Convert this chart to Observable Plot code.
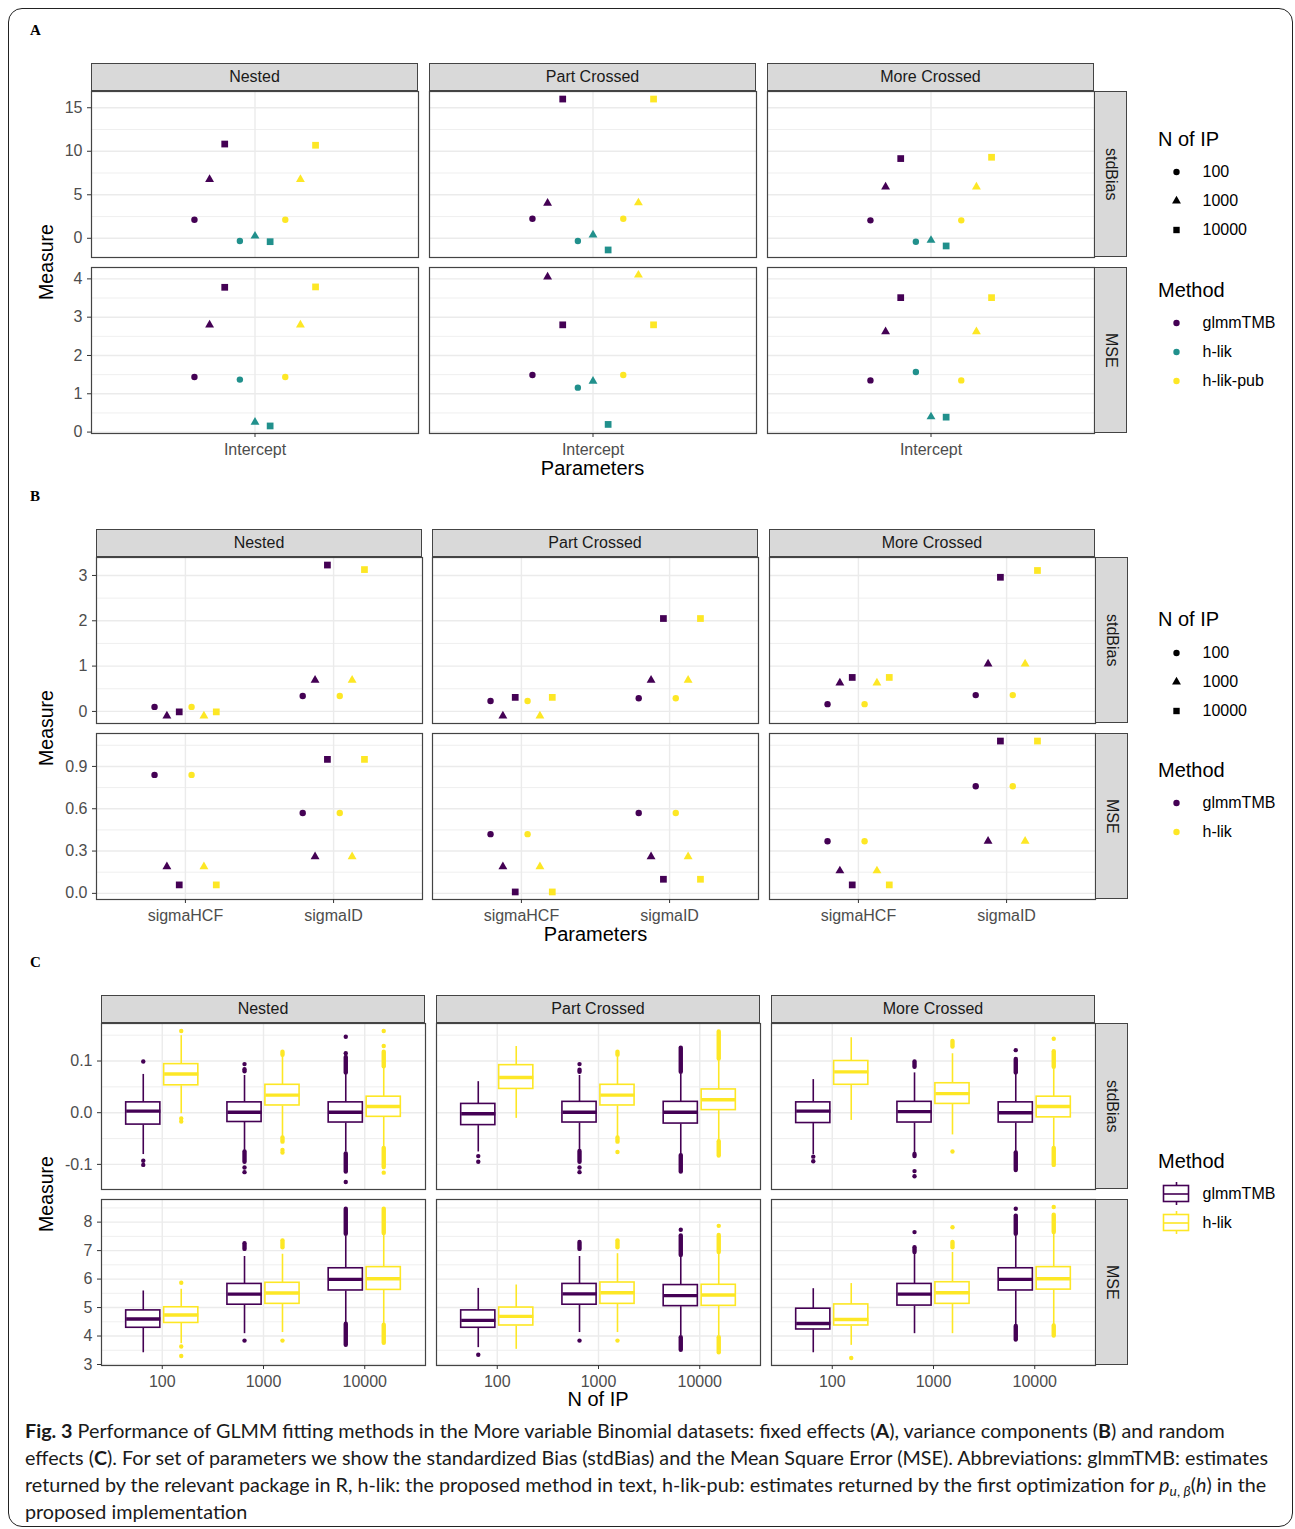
<!DOCTYPE html>
<html><head><meta charset="utf-8">
<script src="https://cdn.jsdelivr.net/npm/d3@7"></script>
<script src="https://cdn.jsdelivr.net/npm/@observablehq/plot@0.6"></script>
<style>
body{margin:0;background:#fff;}
#root{position:relative;width:1295px;height:1529px;font-family:'Liberation Sans',Arial,sans-serif;overflow:hidden;background:#fff;}
.strip{position:absolute;box-sizing:border-box;background:#D9D9D9;border:1.2px solid #444;display:flex;align-items:center;justify-content:center;font-size:16px;color:#1A1A1A;font-family:'Liberation Sans',Arial,sans-serif;}
.vstrip{writing-mode:vertical-rl;}
#frameBox{position:absolute;left:8px;top:8px;width:1285px;height:1519px;box-sizing:border-box;border:1.6px solid #222;border-radius:14px;}
#caption{position:absolute;left:25px;top:1417px;font-family:Lato,'Noto Sans',sans-serif;font-size:18.5px;line-height:27px;color:#1a1a1a;}
#caption div{white-space:nowrap;}
#caption sub{font-size:0.7em;vertical-align:-0.3em;line-height:0;}
</style></head><body><div id="root"><div id="frameBox"></div></div>
<script>
// ---------------- shared categories ----------------
const designs = ["Nested", "Part Crossed", "More Crossed"];
const measures = ["stdBias", "MSE"];
const nIP = ["100", "1000", "10000"];
const methodsA = ["glmmTMB", "h-lik", "h-lik-pub"];
const colorsA = ["#440154", "#21908C", "#FDE725"];
const methodsBC = ["glmmTMB", "h-lik"];
const colorsBC = ["#440154", "#FDE725"];
const paramsA = ["Intercept"];
const paramsB = ["sigmaHCF", "sigmaID"];

// ---------------- tick labels ----------------
const aYTicksStdBias = [0, 5, 10, 15];
const aYTicksMSE = [0, 1, 2, 3, 4];
const bYTicksStdBias = [0, 1, 2, 3];
const bYTicksMSE = [0, 0.3, 0.6, 0.9];
const cYTicksStdBias = [-0.1, 0, 0.1];
const cYTicksMSE = [3, 4, 5, 6, 7, 8];

// ---------------- Panel A values (order: Nested 100,1000,10000 | Part Crossed ... | More Crossed ...) ----------------
const aStdBiasGlmm = [2.13, 6.76, 10.83, 2.25, 4.04, 16.00, 2.06, 5.91, 9.16];
const aStdBiasHlik = [-0.31, 0.26, -0.39, -0.31, 0.38, -1.34, -0.39, -0.23, -0.88];
const aStdBiasPub  = [2.13, 6.76, 10.69, 2.25, 4.08, 16.00, 2.06, 5.91, 9.31];
const aMseGlmm = [1.44, 2.80, 3.78, 1.49, 4.05, 2.80, 1.35, 2.62, 3.51];
const aMseHlik = [1.37, 0.26, 0.16, 1.16, 1.33, 0.20, 1.57, 0.40, 0.39];
const aMsePub  = [1.44, 2.80, 3.79, 1.49, 4.10, 2.80, 1.35, 2.62, 3.51];

// ---------------- Panel B values ----------------
const bStdBiasHCFGlmm = [0.10, -0.10, -0.01, 0.23, -0.10, 0.31, 0.16, 0.63, 0.75];
const bStdBiasHCFHlik = [0.10, -0.10, -0.01, 0.23, -0.10, 0.31, 0.16, 0.63, 0.75];
const bStdBiasIDGlmm  = [0.34, 0.69, 3.23, 0.29, 0.69, 2.05, 0.36, 1.05, 2.96];
const bStdBiasIDHlik  = [0.34, 0.69, 3.13, 0.29, 0.69, 2.05, 0.36, 1.05, 3.11];
const bMseHCFGlmm = [0.84, 0.19, 0.06, 0.42, 0.19, 0.01, 0.37, 0.16, 0.06];
const bMseHCFHlik = [0.84, 0.19, 0.06, 0.42, 0.19, 0.01, 0.37, 0.16, 0.06];
const bMseIDGlmm  = [0.57, 0.26, 0.95, 0.57, 0.26, 0.10, 0.76, 0.37, 1.08];
const bMseIDHlik  = [0.57, 0.26, 0.95, 0.57, 0.26, 0.10, 0.76, 0.37, 1.08];

// ---------------- Panel C box statistics: [design, measure, nIP, method, lowWhisker, q1, median, q3, highWhisker] ----------------
const cNestedBoxes = [
  ["Nested","stdBias","100","glmmTMB", -0.080,-0.023,0.003,0.020,0.075],
  ["Nested","stdBias","100","h-lik", -0.001,0.053,0.075,0.094,0.150],
  ["Nested","stdBias","1000","glmmTMB", -0.072,-0.018,0.001,0.020,0.073],
  ["Nested","stdBias","1000","h-lik", -0.046,0.014,0.034,0.054,0.112],
  ["Nested","stdBias","10000","glmmTMB", -0.075,-0.019,0.001,0.020,0.075],
  ["Nested","stdBias","10000","h-lik", -0.066,-0.008,0.012,0.031,0.089],
  ["Nested","MSE","100","glmmTMB", 3.43,4.29,4.60,4.90,5.60],
  ["Nested","MSE","100","h-lik", 3.75,4.46,4.74,5.01,5.66],
  ["Nested","MSE","1000","glmmTMB", 4.10,5.10,5.47,5.83,6.81],
  ["Nested","MSE","1000","h-lik", 4.14,5.13,5.51,5.87,6.89],
  ["Nested","MSE","10000","glmmTMB", 4.49,5.60,5.99,6.38,7.53],
  ["Nested","MSE","10000","h-lik", 4.45,5.62,6.01,6.42,7.55]
];
const cPartBoxes = [
  ["Part Crossed","stdBias","100","glmmTMB", -0.075,-0.024,-0.002,0.017,0.061],
  ["Part Crossed","stdBias","100","h-lik", -0.010,0.046,0.068,0.092,0.129],
  ["Part Crossed","stdBias","1000","glmmTMB", -0.072,-0.019,0.001,0.021,0.073],
  ["Part Crossed","stdBias","1000","h-lik", -0.046,0.014,0.034,0.054,0.108],
  ["Part Crossed","stdBias","10000","glmmTMB", -0.081,-0.021,0.001,0.021,0.076],
  ["Part Crossed","stdBias","10000","h-lik", -0.053,0.005,0.025,0.045,0.102],
  ["Part Crossed","MSE","100","glmmTMB", 3.61,4.29,4.55,4.90,5.69],
  ["Part Crossed","MSE","100","h-lik", 3.55,4.37,4.69,5.00,5.81],
  ["Part Crossed","MSE","1000","glmmTMB", 4.14,5.10,5.48,5.83,6.81],
  ["Part Crossed","MSE","1000","h-lik", 4.14,5.13,5.52,5.88,6.91],
  ["Part Crossed","MSE","10000","glmmTMB", 4.02,5.05,5.42,5.79,6.81],
  ["Part Crossed","MSE","10000","h-lik", 4.02,5.06,5.44,5.80,6.89]
];
const cMoreBoxes = [
  ["More Crossed","stdBias","100","glmmTMB", -0.080,-0.020,0.003,0.020,0.065],
  ["More Crossed","stdBias","100","h-lik", -0.014,0.054,0.079,0.100,0.146],
  ["More Crossed","stdBias","1000","glmmTMB", -0.079,-0.019,0.002,0.021,0.078],
  ["More Crossed","stdBias","1000","h-lik", -0.042,0.017,0.037,0.057,0.115],
  ["More Crossed","stdBias","10000","glmmTMB", -0.075,-0.019,0.000,0.020,0.076],
  ["More Crossed","stdBias","10000","h-lik", -0.066,-0.009,0.012,0.031,0.086],
  ["More Crossed","MSE","100","glmmTMB", 3.43,4.23,4.44,4.96,5.68],
  ["More Crossed","MSE","100","h-lik", 3.69,4.37,4.58,5.11,5.86],
  ["More Crossed","MSE","1000","glmmTMB", 4.10,5.07,5.47,5.83,6.92],
  ["More Crossed","MSE","1000","h-lik", 4.10,5.13,5.52,5.89,6.95],
  ["More Crossed","MSE","10000","glmmTMB", 4.37,5.60,5.99,6.38,7.53],
  ["More Crossed","MSE","10000","h-lik", 4.39,5.63,6.01,6.42,7.59]
];
// isolated outliers: [design, measure, nIP, method, value]
const cOutlierPoints = [
  ["Nested","stdBias","100","glmmTMB",0.099],["Nested","stdBias","100","glmmTMB",-0.093],["Nested","stdBias","100","glmmTMB",-0.101],
  ["Nested","stdBias","100","h-lik",0.158],["Nested","stdBias","100","h-lik",-0.011],["Nested","stdBias","100","h-lik",-0.017],
  ["Nested","stdBias","1000","glmmTMB",0.094],["Nested","stdBias","1000","glmmTMB",-0.106],["Nested","stdBias","1000","glmmTMB",-0.115],
  ["Nested","stdBias","1000","h-lik",-0.072],["Nested","stdBias","1000","h-lik",-0.077],
  ["Nested","stdBias","10000","glmmTMB",0.115],["Nested","stdBias","10000","glmmTMB",0.147],["Nested","stdBias","10000","glmmTMB",-0.134],
  ["Nested","stdBias","10000","h-lik",0.129],["Nested","stdBias","10000","h-lik",0.158],["Nested","stdBias","10000","h-lik",-0.116],
  ["Nested","MSE","100","h-lik",5.87],["Nested","MSE","100","h-lik",3.63],["Nested","MSE","100","h-lik",3.30],
  ["Nested","MSE","1000","glmmTMB",3.84],["Nested","MSE","1000","h-lik",3.84],
  ["Part Crossed","stdBias","100","glmmTMB",-0.084],["Part Crossed","stdBias","100","glmmTMB",-0.095],
  ["Part Crossed","stdBias","1000","glmmTMB",0.094],["Part Crossed","stdBias","1000","glmmTMB",-0.106],["Part Crossed","stdBias","1000","glmmTMB",-0.115],
  ["Part Crossed","stdBias","1000","h-lik",-0.076],
  ["Part Crossed","MSE","100","glmmTMB",3.34],["Part Crossed","MSE","1000","glmmTMB",3.84],["Part Crossed","MSE","1000","h-lik",3.84],
  ["Part Crossed","MSE","10000","glmmTMB",7.73],["Part Crossed","MSE","10000","h-lik",7.87],
  ["More Crossed","stdBias","100","glmmTMB",-0.085],["More Crossed","stdBias","100","glmmTMB",-0.094],
  ["More Crossed","stdBias","1000","glmmTMB",-0.113],["More Crossed","stdBias","1000","glmmTMB",-0.123],
  ["More Crossed","stdBias","1000","h-lik",-0.075],
  ["More Crossed","stdBias","10000","glmmTMB",0.121],["More Crossed","stdBias","10000","h-lik",0.143],
  ["More Crossed","MSE","100","h-lik",3.23],["More Crossed","MSE","1000","glmmTMB",7.65],["More Crossed","MSE","1000","h-lik",7.82],
  ["More Crossed","MSE","10000","glmmTMB",8.47],["More Crossed","MSE","10000","h-lik",8.53]
];
// dense runs of overlapping outliers: [design, measure, nIP, method, from, to]
const cOutlierRuns = [
  ["Nested","stdBias","1000","glmmTMB",0.080,0.084],["Nested","stdBias","1000","glmmTMB",-0.095,-0.075],
  ["Nested","stdBias","1000","h-lik",0.112,0.118],["Nested","stdBias","1000","h-lik",-0.056,-0.048],
  ["Nested","stdBias","10000","glmmTMB",0.078,0.108],["Nested","stdBias","10000","glmmTMB",-0.114,-0.079],
  ["Nested","stdBias","10000","h-lik",0.090,0.118],["Nested","stdBias","10000","h-lik",-0.105,-0.068],
  ["Nested","MSE","1000","glmmTMB",7.06,7.26],["Nested","MSE","1000","h-lik",7.12,7.36],
  ["Nested","MSE","10000","glmmTMB",7.59,8.47],["Nested","MSE","10000","glmmTMB",3.69,4.43],
  ["Nested","MSE","10000","h-lik",7.62,8.47],["Nested","MSE","10000","h-lik",3.76,4.40],
  ["Part Crossed","stdBias","1000","glmmTMB",0.079,0.083],["Part Crossed","stdBias","1000","glmmTMB",-0.095,-0.074],
  ["Part Crossed","stdBias","1000","h-lik",0.112,0.118],["Part Crossed","stdBias","1000","h-lik",-0.056,-0.048],
  ["Part Crossed","stdBias","10000","glmmTMB",0.079,0.126],["Part Crossed","stdBias","10000","glmmTMB",-0.114,-0.082],
  ["Part Crossed","stdBias","10000","h-lik",0.105,0.157],["Part Crossed","stdBias","10000","h-lik",-0.083,-0.055],
  ["Part Crossed","MSE","1000","glmmTMB",7.06,7.30],["Part Crossed","MSE","1000","h-lik",7.12,7.36],
  ["Part Crossed","MSE","10000","glmmTMB",6.85,7.53],["Part Crossed","MSE","10000","glmmTMB",3.52,3.96],
  ["Part Crossed","MSE","10000","h-lik",6.95,7.55],["Part Crossed","MSE","10000","h-lik",3.43,3.96],
  ["More Crossed","stdBias","1000","glmmTMB",0.089,0.099],["More Crossed","stdBias","1000","glmmTMB",-0.084,-0.080],
  ["More Crossed","stdBias","1000","h-lik",0.128,0.139],
  ["More Crossed","stdBias","10000","glmmTMB",0.078,0.104],["More Crossed","stdBias","10000","glmmTMB",-0.111,-0.077],
  ["More Crossed","stdBias","10000","h-lik",0.089,0.119],["More Crossed","stdBias","10000","h-lik",-0.101,-0.068],
  ["More Crossed","MSE","1000","glmmTMB",6.95,7.12],["More Crossed","MSE","1000","h-lik",7.12,7.30],
  ["More Crossed","MSE","10000","glmmTMB",7.59,8.23],["More Crossed","MSE","10000","glmmTMB",3.88,4.35],
  ["More Crossed","MSE","10000","h-lik",7.65,8.26],["More Crossed","MSE","10000","h-lik",4.02,4.37]
];

// ---------------- helpers ----------------
const FONT = "'Liberation Sans', Arial, Helvetica, sans-serif";
const root = document.getElementById("root");
const SYMS = ["circle", "triangle", "square"];
const SYM_R = [3.2, 3.3, 3.8];

function rowsFrom(measure, method, param, arr) {
  return arr.map((v, i) => ({design: designs[Math.floor(i / 3)], nip: nIP[i % 3], measure, method, param, value: v}));
}
function expand([a, b]) { const p = (b - a) * 0.05; return [a - p, b + p]; }
function place(el, left, top) {
  el.style.position = "absolute"; el.style.left = left + "px"; el.style.top = top + "px";
  root.appendChild(el); return el;
}
function textDiv(txt, x, y, {size = 16, color = "#000", anchor = "middle", rotate = 0, weight = "normal", family = FONT} = {}) {
  const d = document.createElement("div");
  d.textContent = txt;
  d.style.cssText = `position:absolute;left:${x}px;top:${y}px;font-size:${size}px;color:${color};font-family:${family};font-weight:${weight};white-space:nowrap;line-height:1.15;transform:translate(${anchor === "start" ? "0" : "-50%"},-50%) rotate(${rotate}deg);`;
  root.appendChild(d);
}
function strip(txt, left, top, w, h, vertical) {
  const d = document.createElement("div");
  d.className = "strip" + (vertical ? " vstrip" : "");
  d.textContent = txt;
  d.style.left = left + "px"; d.style.top = top + "px"; d.style.width = w + "px"; d.style.height = h + "px";
  root.appendChild(d);
}
function cell({left, top, W, H, ml, mb, params, yDomain, yMajor, yFormat, marks, color, showY, showX}) {
  const stepY = yMajor[1] - yMajor[0];
  const minor = [];
  for (let i = -1; i < yMajor.length; i++) minor.push(yMajor[0] + (i + 0.5) * stepY);
  const minorIn = minor.filter(v => v > yDomain[0] && v < yDomain[1]);
  const xTicks = d3.range(1, params.length + 1);
  const svg = Plot.plot({
    width: ml + W, height: H + mb,
    marginLeft: ml, marginRight: 0, marginTop: 0, marginBottom: mb,
    x: {domain: [0.4, params.length + 0.6], axis: null},
    y: {domain: yDomain, axis: null},
    color,
    style: {fontFamily: FONT, fontSize: "16px", background: "transparent", overflow: "visible"},
    marks: [
      Plot.ruleY(minorIn, {stroke: "#EBEBEB", strokeWidth: 0.8}),
      Plot.ruleY(yMajor, {stroke: "#EBEBEB", strokeWidth: 1.4}),
      Plot.ruleX(xTicks, {stroke: "#EBEBEB", strokeWidth: 1.4}),
      ...marks,
      Plot.frame({stroke: "#444", strokeWidth: 1.2}),
      showY ? Plot.axisY(yMajor, {tickSize: 4, tickPadding: 5, fontSize: 16, fill: "#4D4D4D", stroke: "#333", label: null, tickFormat: yFormat}) : null,
      showX ? Plot.axisX(xTicks, {tickSize: 4, tickPadding: 6, fontSize: 16, fill: "#4D4D4D", stroke: "#333", label: null, tickFormat: i => params[i - 1]}) : null
    ]
  });
  place(svg, left - ml, top);
}
function frameStrips(L) {
  designs.forEach((des, c) => strip(des, L.colLefts[c], L.stripTop, L.colW, L.rowTops[0] - L.stripTop, false));
  const rx = L.colLefts[2] + L.colW;
  measures.forEach((m, r) => strip(m, rx, L.rowTops[r], 33, L.rowH, true));
  textDiv("Measure", 46, (L.rowTops[0] + L.rowTops[1] + L.rowH) / 2, {size: 19.5, rotate: -90});
  textDiv(L.xTitle, (L.colLefts[0] + L.colLefts[2] + L.colW) / 2, L.xTitleY, {size: 20});
}

// ---------- point panels (A, B) ----------
function pointPanel(L, rows, params, methods, colors, yTicks, yFormats) {
  const nG = methods.length * nIP.length;
  const stepG = 0.5 / nG;
  const xOf = d => params.indexOf(d.param) + 1 + (methods.indexOf(d.method) * nIP.length + nIP.indexOf(d.nip) - (nG - 1) / 2) * stepG;
  measures.forEach((m, r) => {
    const yDomain = expand(d3.extent(rows.filter(d => d.measure === m), d => d.value));
    designs.forEach((des, c) => {
      const data = rows.filter(d => d.measure === m && d.design === des);
      const marks = nIP.map((n, k) => Plot.dot(data.filter(d => d.nip === n), {x: xOf, y: "value", fill: "method", symbol: SYMS[k], r: SYM_R[k]}));
      cell({left: L.colLefts[c], top: L.rowTops[r], W: L.colW, H: L.rowH, ml: c === 0 ? 70 : 0, mb: r === 1 ? 34 : 0,
        params, yDomain, yMajor: yTicks[r], yFormat: yFormats[r], marks,
        color: {domain: methods, range: colors}, showY: c === 0, showX: r === 1});
    });
  });
  frameStrips(L);
}

// ---------- legends ----------
function symbolLegend(left, top, labels, symbols, fills, radii) {
  const items = labels.map((l, i) => ({l, s: symbols[i], f: fills[i], r: radii[i], cy: 14.5 + i * 29}));
  const svg = Plot.plot({
    width: 150, height: labels.length * 29, margin: 0,
    x: {type: "identity", axis: null}, y: {type: "identity", axis: null},
    style: {fontFamily: FONT, background: "transparent", overflow: "visible"},
    marks: [
      ...items.map(it => Plot.dot([it], {x: () => 18, y: "cy", symbol: () => it.s, fill: () => it.f, r: it.r})),
      Plot.text(items, {x: () => 44, y: "cy", text: "l", textAnchor: "start", fontSize: 16, fill: "#000"})
    ],
    symbol: {type: "identity"}, color: {type: "identity"}
  });
  place(svg, left, top);
}
function boxLegend(left, top, labels, strokes) {
  const items = labels.map((l, i) => ({l, f: strokes[i], cy: 14.5 + i * 29}));
  const svg = Plot.plot({
    width: 150, height: labels.length * 29, margin: 0,
    x: {type: "identity", axis: null}, y: {type: "identity", axis: null}, color: {type: "identity"},
    style: {fontFamily: FONT, background: "transparent", overflow: "visible"},
    marks: [
      Plot.ruleX(items, {x: () => 18, y1: d => d.cy - 11.5, y2: d => d.cy + 11.5, stroke: "f", strokeWidth: 1.6}),
      Plot.rect(items, {x1: () => 5.5, x2: () => 30.5, y1: d => d.cy - 8, y2: d => d.cy + 8, fill: "white", stroke: "f", strokeWidth: 1.6}),
      Plot.ruleY(items, {y: "cy", x1: () => 5.5, x2: () => 30.5, stroke: "f", strokeWidth: 1.6}),
      Plot.text(items, {x: () => 44, y: "cy", text: "l", textAnchor: "start", fontSize: 16, fill: "#000"})
    ]
  });
  place(svg, left, top);
}

// ================= Panel A =================
const rowsA = [
  ...rowsFrom("stdBias", "glmmTMB", "Intercept", aStdBiasGlmm),
  ...rowsFrom("stdBias", "h-lik", "Intercept", aStdBiasHlik),
  ...rowsFrom("stdBias", "h-lik-pub", "Intercept", aStdBiasPub),
  ...rowsFrom("MSE", "glmmTMB", "Intercept", aMseGlmm),
  ...rowsFrom("MSE", "h-lik", "Intercept", aMseHlik),
  ...rowsFrom("MSE", "h-lik-pub", "Intercept", aMsePub)
];
const LA = {colLefts: [91, 429, 767], colW: 327, stripTop: 63, rowTops: [91, 267], rowH: 166, xTitle: "Parameters", xTitleY: 468};
pointPanel(LA, rowsA, paramsA, methodsA, colorsA, [aYTicksStdBias, aYTicksMSE], [d => String(d), d => String(d)]);
textDiv("A", 30, 31, {size: 15, weight: "bold", family: "'Liberation Serif','DejaVu Serif',serif", anchor: "start"});
textDiv("N of IP", 1158, 139, {size: 20, anchor: "start"});
symbolLegend(1158, 157, nIP, SYMS, ["#000", "#000", "#000"], [3.2, 3.3, 3.6]);
textDiv("Method", 1158, 290, {size: 20, anchor: "start"});
symbolLegend(1158, 308, methodsA, ["circle", "circle", "circle"], colorsA, [3.2, 3.2, 3.2]);

// ================= Panel B =================
const rowsB = [
  ...rowsFrom("stdBias", "glmmTMB", "sigmaHCF", bStdBiasHCFGlmm),
  ...rowsFrom("stdBias", "h-lik", "sigmaHCF", bStdBiasHCFHlik),
  ...rowsFrom("stdBias", "glmmTMB", "sigmaID", bStdBiasIDGlmm),
  ...rowsFrom("stdBias", "h-lik", "sigmaID", bStdBiasIDHlik),
  ...rowsFrom("MSE", "glmmTMB", "sigmaHCF", bMseHCFGlmm),
  ...rowsFrom("MSE", "h-lik", "sigmaHCF", bMseHCFHlik),
  ...rowsFrom("MSE", "glmmTMB", "sigmaID", bMseIDGlmm),
  ...rowsFrom("MSE", "h-lik", "sigmaID", bMseIDHlik)
];
const LB = {colLefts: [96, 432, 769], colW: 326, stripTop: 529, rowTops: [557, 733], rowH: 166, xTitle: "Parameters", xTitleY: 934};
pointPanel(LB, rowsB, paramsB, methodsBC, colorsBC, [bYTicksStdBias, bYTicksMSE], [d => String(d), d => d.toFixed(1)]);
textDiv("B", 30, 497, {size: 15, weight: "bold", family: "'Liberation Serif','DejaVu Serif',serif", anchor: "start"});
textDiv("N of IP", 1158, 619, {size: 20, anchor: "start"});
symbolLegend(1158, 637.5, nIP, SYMS, ["#000", "#000", "#000"], [3.2, 3.3, 3.6]);
textDiv("Method", 1158, 770, {size: 20, anchor: "start"});
symbolLegend(1158, 788, methodsBC, ["circle", "circle"], colorsBC, [3.2, 3.2]);

// ================= Panel C =================
const toBox = r => ({design: r[0], measure: r[1], nip: r[2], method: r[3], lo: r[4], q1: r[5], med: r[6], q3: r[7], hi: r[8]});
const boxesC = [...cNestedBoxes, ...cPartBoxes, ...cMoreBoxes].map(toBox);
const pointsC = cOutlierPoints.map(r => ({design: r[0], measure: r[1], nip: r[2], method: r[3], value: r[4]}));
const runsC = cOutlierRuns.map(r => ({design: r[0], measure: r[1], nip: r[2], method: r[3], from: r[4], to: r[5]}));
const LC = {colLefts: [101, 436, 771], colW: 324, stripTop: 995, rowTops: [1023, 1199], rowH: 166, xTitle: "N of IP", xTitleY: 1399};
(function boxPanel(L) {
  const dodge = 0.375, hw = 0.375 * 0.9 / 2;
  const cx = d => nIP.indexOf(d.nip) + 1 + (methodsBC.indexOf(d.method) - 0.5) * dodge;
  const yTicks = [cYTicksStdBias, cYTicksMSE];
  const yFormats = [d => d.toFixed(1), d => String(d)];
  measures.forEach((m, r) => {
    const all = [
      ...boxesC.filter(d => d.measure === m).flatMap(d => [d.lo, d.hi]),
      ...pointsC.filter(d => d.measure === m).map(d => d.value),
      ...runsC.filter(d => d.measure === m).flatMap(d => [d.from, d.to])
    ];
    const yDomain = expand(d3.extent(all));
    designs.forEach((des, c) => {
      const f = d => d.measure === m && d.design === des;
      const bx = boxesC.filter(f), pts = pointsC.filter(f), runs = runsC.filter(f);
      const marks = [
        Plot.link(bx, {x1: cx, x2: cx, y1: "lo", y2: "q1", stroke: "method", strokeWidth: 1.6}),
        Plot.link(bx, {x1: cx, x2: cx, y1: "q3", y2: "hi", stroke: "method", strokeWidth: 1.6}),
        Plot.rect(bx, {x1: d => cx(d) - hw, x2: d => cx(d) + hw, y1: "q1", y2: "q3", fill: "white", stroke: "method", strokeWidth: 1.6}),
        Plot.link(bx, {x1: d => cx(d) - hw, x2: d => cx(d) + hw, y1: "med", y2: "med", stroke: "method", strokeWidth: 3.4}),
        Plot.link(runs, {x1: cx, x2: cx, y1: "from", y2: "to", stroke: "method", strokeWidth: 4.4, strokeLinecap: "round"}),
        Plot.dot(pts, {x: cx, y: "value", fill: "method", r: 2.2})
      ];
      cell({left: L.colLefts[c], top: L.rowTops[r], W: L.colW, H: L.rowH, ml: c === 0 ? 70 : 0, mb: r === 1 ? 34 : 0,
        params: nIP, yDomain, yMajor: yTicks[r], yFormat: yFormats[r], marks,
        color: {domain: methodsBC, range: colorsBC}, showY: c === 0, showX: r === 1});
    });
  });
  frameStrips(L);
})(LC);
textDiv("C", 30, 963, {size: 15, weight: "bold", family: "'Liberation Serif','DejaVu Serif',serif", anchor: "start"});
textDiv("Method", 1158, 1161, {size: 20, anchor: "start"});
boxLegend(1158, 1178.5, methodsBC, colorsBC);

// ================= caption =================
const cap = document.createElement("div");
cap.id = "caption";
cap.innerHTML =
  '<div><b>Fig. 3</b> Performance of GLMM fitting methods in the More variable Binomial datasets: fixed effects (<b>A</b>), variance components (<b>B</b>) and random</div>' +
  '<div>effects (<b>C</b>). For set of parameters we show the standardized Bias (stdBias) and the Mean Square Error (MSE). Abbreviations: glmmTMB: estimates</div>' +
  '<div>returned by the relevant package in R, h-lik: the proposed method in text, h-lik-pub: estimates returned by the first optimization for <i>p</i><sub><i>u</i>, <i>β</i></sub>(<i>h</i>) in the</div>' +
  '<div>proposed implementation</div>';
root.appendChild(cap);
function fitCaption() {
  const targets = [1204, 1223, 1254];
  let got = 0;
  for (let i = 0; i < 3; i++) {
    const line = cap.children[i];
    line.style.display = "inline-block";
    got += line.getBoundingClientRect().width;
    line.style.display = "";
  }
  if (got > 0) {
    const cur = parseFloat(getComputedStyle(cap).fontSize);
    cap.style.fontSize = (cur * d3.sum(targets) / got).toFixed(2) + "px";
  }
}
fitCaption();
if (document.fonts && document.fonts.ready) document.fonts.ready.then(fitCaption);
</script></body></html>
